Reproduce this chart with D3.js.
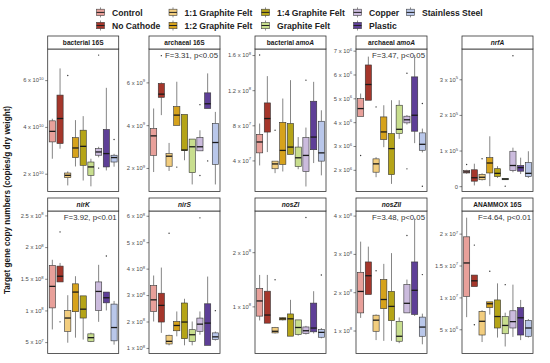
<!DOCTYPE html>
<html>
<head>
<meta charset="utf-8">
<script src="https://cdn.jsdelivr.net/npm/d3@7"></script>
<style>body{margin:0;background:#fff}</style>
</head>
<body>
<script>
const groups = ["Control", "No Cathode", "1:1 Graphite Felt", "1:2 Graphite Felt", "1:4 Graphite Felt",
  "Graphite Felt", "Copper", "Plastic", "Stainless Steel"];
const groupColors = ["#E8A09A", "#A5362B", "#F2CD7E", "#D6A21C", "#B5A417", "#C8DE8E", "#CBBBDD", "#5E3F97", "#B9C7EA"];

// box stats per group: [lower whisker, q1, median, q3, upper whisker]
const bact16S = [[2.64,3.36,3.81,4.26,4.35],[3.07,3.29,4.36,5.36,6.5],[1.5,1.83,1.93,2.03,2.1],[2.31,2.69,3.1,3.54,4.29],
  [1.71,2.36,3.17,3.86,4.46],[1.46,1.93,2.29,2.5,2.64],[2.7,2.79,2.93,3.07,3.15],[2.14,2.29,2.86,3.89,5.67],[2.3,2.5,2.69,2.79,2.85]];
const bact16SOut = [[],[],[6.2],[],[],[],[7.07,2.24],[],[3.46]];

const arch16S = [[1.81,2.59,3.5,3.84,4.78],[4.47,5.3,5.45,5.95,6.0],[1.86,2.08,2.55,2.67,3.17],[3.99,3.99,4.47,4.87,6.03],
  [2.36,2.81,2.84,4.5,4.5],[1.23,1.78,2.99,3.35,3.35],[2.8,2.8,2.99,3.42,3.76],[4.78,4.78,5.0,5.51,6.42],[1.23,2.17,3.19,4.08,4.62]];
const arch16SOut = [[],[7.25],[],[2.04],[],[],[1.65,4.96],[2.33],[]];

const bactAmoA = [[0.343,0.486,0.61,0.697,0.82],[0.495,0.723,0.877,1.055,1.36],[0.255,0.305,0.36,0.392,0.392],[0.274,0.354,0.514,0.834,1.105],
  [0.469,0.469,0.552,0.82,1.314],[0.3,0.331,0.43,0.552,0.666],[0.103,0.274,0.457,0.66,0.774],[0.37,0.522,0.666,1.074,1.295],[0.23,0.392,0.486,0.846,0.971]];
const bactAmoAOut = [[1.6],[],[0.743],[],[],[],[1.314],[],[]];

const archAmoA = [[4.24,4.24,4.57,4.99,5.2],[4.92,4.92,5.58,6.4,6.75],[1.69,1.9,2.25,2.46,2.53],[2.95,3.27,3.59,4.22,4.71],
  [1.41,1.8,2.89,3.52,4.92],[3.3,3.52,3.7,4.71,4.92],[3.9,3.97,4.1,4.25,4.3],[3.12,3.62,4.29,5.9,6.82],[2.73,2.82,3.07,3.55,3.73]];
const archAmoAOut = [[2.6],[],[4.64],[],[],[],[6.05,2.04],[],[4.78,1.31]];

const nrfA = [[0.35,0.37,0.4,0.44,0.46],[0.02,0.14,0.236,0.46,0.63],[0.16,0.18,0.25,0.33,0.36],[0.0,0.37,0.65,0.8,1.4],
  [0.23,0.27,0.36,0.49,0.56],[0.18,0.18,0.2,0.22,0.22],[0.39,0.44,0.58,0.98,1.08],[0.34,0.42,0.52,0.58,0.8],[0.23,0.27,0.36,0.66,0.98]];
const nrfAOut = [[0.61],[],[0.77],[],[],[0.0],[3.66],[],[]];

const nirK = [[0.7,1.04,1.38,1.71,1.8],[1.45,1.45,1.54,1.7,1.75],[0.49,0.67,0.88,1.0,1.24],[0.57,0.98,1.29,1.42,1.54],
  [0.54,0.88,1.02,1.23,1.23],[0.5,0.51,0.57,0.63,0.65],[0.82,1.0,1.3,1.45,1.72],[1.0,1.12,1.2,1.29,1.29],[0.46,0.52,0.73,1.1,1.15]];
const nirKOut = [[],[2.24,0.82],[],[],[],[],[],[1.86],[]];

const nirS = [[2.0,2.38,2.82,3.36,3.74],[1.57,1.98,2.61,3.07,4.04],[1.1,1.15,1.25,1.48,1.5],[1.44,1.65,1.85,2.0,2.38],
  [1.1,1.35,1.98,2.7,2.86],[1.1,1.25,1.5,1.69,2.0],[1.5,1.63,1.9,2.13,2.38],[1.1,1.1,1.94,2.67,3.7],[1.28,1.32,1.42,1.57,1.62]];
const nirSOut = [[],[],[5.34],[],[],[],[5.92],[],[2.41]];

const nosZI = [[0.74,0.82,1.1,1.33,1.58],[0.69,0.69,0.84,1.28,1.58],[0.5,0.51,0.54,0.61,0.62],[0.74,0.75,0.77,0.79,0.8],
  [0.45,0.45,0.77,0.86,1.12],[0.46,0.48,0.61,0.75,0.75],[0.48,0.5,0.55,0.62,0.64],[0.5,0.53,0.6,1.06,1.28],[0.41,0.43,0.52,0.57,0.6]];
const nosZIOut = [[],[],[1.49],[],[],[],[2.64],[],[1.58]];

const nosZII = [[1.33,1.46,2.02,2.52,3.32],[1.94,1.94,2.43,2.79,3.19],[0.75,0.98,1.27,1.4,1.42],[0.73,1.57,1.81,2.33,2.74],
  [0.73,1.26,1.63,2.02,3.02],[0.67,0.72,0.85,1.24,1.34],[1.46,1.46,1.71,2.2,2.33],[1.38,1.42,2.05,2.79,3.93],[0.64,0.85,1.09,1.35,1.44]];
const nosZIIOut = [[],[],[2.56],[],[],[],[3.48],[],[2.46]];

const anammox = [[0.69,1.016,1.54,1.95,2.25],[1.17,1.17,1.26,1.35,1.35],[0.3,0.41,0.625,0.78,0.8],[0.73,0.84,0.9,0.93,0.93],
  [0.37,0.52,0.7,0.96,1.22],[0.23,0.43,0.56,0.7,0.76],[0.38,0.52,0.62,0.79,1.2],[0.33,0.41,0.68,0.84,0.96],[0.37,0.39,0.52,0.64,0.66]];
const anammoxOut = [[],[1.82,0.57],[],[1.41],[],[1.2],[],[],[]];

const panels = [
  {title: [["bacterial 16S", 0]], stats: bact16S, out: bact16SOut, domain: [1.24, 7.33],
   ticks: [2, 4, 6], labels: ["2 x 10^10", "4 x 10^10", "6 x 10^10"], stat: ""},
  {title: [["archaeal 16S", 0]], stats: arch16S, out: arch16SOut, domain: [0.9, 7.56],
   ticks: [2, 4, 6], labels: ["2 x 10^9", "4 x 10^9", "6 x 10^9"], stat: "F=3.31, p<0.05"},
  {title: [["bacterial ", 0], ["amoA", 1]], stats: bactAmoA, out: bactAmoAOut, domain: [0.046, 1.669],
   ticks: [0.4, 0.8, 1.2, 1.6], labels: ["4 x 10^7", "8 x 10^7", "1.2 x 10^8", "1.6 x 10^8"], stat: ""},
  {title: [["archaeal ", 0], ["amoA", 1]], stats: archAmoA, out: archAmoAOut, domain: [1.09, 7.07],
   ticks: [2, 3, 4, 5, 6, 7], labels: ["2 x 10^6", "3 x 10^6", "4 x 10^6", "5 x 10^6", "6 x 10^6", "7 x 10^6"], stat: "F=3.47, p<0.05"},
  {title: [["nrfA", 1]], stats: nrfA, out: nrfAOut, domain: [-0.15, 3.85],
   ticks: [0, 1, 2, 3], labels: ["0", "1 x 10^5", "2 x 10^5", "3 x 10^5"], stat: ""},
  {title: [["nirK", 1]], stats: nirK, out: nirKOut, domain: [0.32, 2.57],
   ticks: [0.5, 1, 1.5, 2, 2.5], labels: ["5 x 10^7", "1 x 10^8", "1.5 x 10^8", "2 x 10^8", "2.5 x 10^8"], stat: "F=3.92, p<0.01"},
  {title: [["nirS", 1]], stats: nirS, out: nirSOut, domain: [0.79, 6.18],
   ticks: [1, 2, 3, 4, 5, 6], labels: ["1 x 10^8", "2 x 10^8", "3 x 10^8", "4 x 10^8", "5 x 10^8", "6 x 10^8"], stat: ""},
  {title: [["nosZI", 1]], stats: nosZI, out: nosZIOut, domain: [0.13, 2.76],
   ticks: [1, 2], labels: ["1 x 10^8", "2 x 10^8"], stat: ""},
  {title: [["nosZII", 1]], stats: nosZII, out: nosZIIOut, domain: [0.4, 4.12],
   ticks: [1, 2, 3, 4], labels: ["1 x 10^8", "2 x 10^8", "3 x 10^8", "4 x 10^8"], stat: "F=3.48, p<0.05"},
  {title: [["ANAMMOX 16S", 0]], stats: anammox, out: anammoxOut, domain: [0.12, 2.355],
   ticks: [0.5, 1, 1.5, 2], labels: ["5 x 10^6", "1 x 10^7", "1.5 x 10^7", "2 x 10^7"], stat: "F=4.64, p<0.01"}
];

const font = "'Liberation Sans', Arial, sans-serif";
const svg = d3.select("body").append("svg")
  .attr("width", 550)
  .attr("height", 363)
  .style("font-family", font);

const colX = [47.7, 149, 255, 356, 462];
const rowY = [49, 211];
const panelW = 71, panelH = 142.5, stripH = 13;

panels.forEach((p, i) => {
  const left = colX[i % 5], top = rowY[Math.floor(i / 5)];
  const g = svg.append("g").attr("transform", `translate(${left},${top})`);
  const x = d3.scalePoint().domain(groups).range([0, panelW]).padding(0.6);
  const y = d3.scaleLinear().domain(p.domain).range([panelH, 0]);
  const bw = x.step() * 0.8;

  // y axis with superscript exponents
  const ax = g.append("g").call(d3.axisLeft(y).tickValues(p.ticks).tickSize(2.5).tickPadding(1.5));
  ax.select(".domain").remove();
  ax.selectAll("line").attr("stroke", "#333").attr("stroke-width", 0.6);
  ax.selectAll("text")
    .attr("font-size", 5.8)
    .attr("font-family", font)
    .attr("fill", "#4d4d4d")
    .each(function(d, k) {
      const parts = p.labels[k].split("^");
      const t = d3.select(this).text(null);
      t.append("tspan").text(parts[0]);
      if (parts[1]) t.append("tspan").attr("dy", -2.4).attr("font-size", 4.2).text(parts[1]);
    });

  const rows = p.stats.map((s, k) => ({
    grp: groups[k], col: groupColors[k], lo: s[0], q1: s[1], med: s[2], q3: s[3], hi: s[4], out: p.out[k]
  }));

  const box = g.selectAll(".bx").data(rows).join("g")
    .attr("class", "bx")
    .attr("transform", d => `translate(${x(d.grp)},0)`);

  box.append("line")
    .attr("y1", d => y(d.hi)).attr("y2", d => y(d.q3))
    .attr("stroke", "#333").attr("stroke-width", 0.6);
  box.append("line")
    .attr("y1", d => y(d.q1)).attr("y2", d => y(d.lo))
    .attr("stroke", "#333").attr("stroke-width", 0.6);
  box.append("rect")
    .attr("x", -bw / 2)
    .attr("width", bw)
    .attr("y", d => y(d.q3))
    .attr("height", d => Math.max(0.8, y(d.q1) - y(d.q3)))
    .attr("fill", d => d.col)
    .attr("stroke", "#333")
    .attr("stroke-width", 0.6);
  box.append("line")
    .attr("x1", -bw / 2).attr("x2", bw / 2)
    .attr("y1", d => y(d.med)).attr("y2", d => y(d.med))
    .attr("stroke", "#1a1a1a").attr("stroke-width", 1.3);
  box.selectAll("circle").data(d => d.out).join("circle")
    .attr("cy", d => y(d))
    .attr("r", 0.7)
    .attr("fill", "#333");

  // panel border
  g.append("rect")
    .attr("width", panelW).attr("height", panelH)
    .attr("fill", "none").attr("stroke", "#333").attr("stroke-width", 0.8);

  // strip
  g.append("rect")
    .attr("y", -stripH).attr("width", panelW).attr("height", stripH)
    .attr("fill", "#fff").attr("stroke", "#333").attr("stroke-width", 0.8);
  const st = g.append("text")
    .attr("x", panelW / 2).attr("y", -stripH / 2 + 2.3)
    .attr("text-anchor", "middle")
    .attr("font-size", 6.6)
    .attr("font-weight", "bold")
    .attr("fill", "#1a1a1a");
  p.title.forEach(([s, it]) => st.append("tspan").attr("font-style", it ? "italic" : "normal").text(s));

  if (p.stat) {
    g.append("text")
      .attr("x", panelW - 2).attr("y", 9.2)
      .attr("text-anchor", "end")
      .attr("font-size", 7.8)
      .attr("fill", "#333")
      .text(p.stat);
  }
});

// y axis title
svg.append("text")
  .attr("transform", "translate(10,200) rotate(-90)")
  .attr("text-anchor", "middle")
  .attr("font-size", 8.2)
  .attr("font-weight", "bold")
  .attr("fill", "#1a1a1a")
  .text("Target gene copy numbers (copies/g dry weight)");

// legend (two rows, column-wise)
const legX = [112, 184.5, 277, 369, 422];
const legY = [12.4, 25.5];
groups.forEach((name, k) => {
  const cx = legX[Math.floor(k / 2)] - 11.5, cy = legY[k % 2];
  const lg = svg.append("g").attr("transform", `translate(${cx},${cy})`);
  lg.append("line").attr("y1", -5).attr("y2", 5).attr("stroke", "#444").attr("stroke-width", 0.6);
  lg.append("rect")
    .attr("x", -4).attr("y", -3.2).attr("width", 8).attr("height", 6.4)
    .attr("fill", groupColors[k]).attr("stroke", "#444").attr("stroke-width", 0.6);
  lg.append("line").attr("x1", -4).attr("x2", 4).attr("stroke", "#222").attr("stroke-width", 1);
  svg.append("text")
    .attr("x", legX[Math.floor(k / 2)]).attr("y", cy + 3.1)
    .attr("font-size", 8.6)
    .attr("font-weight", "bold")
    .attr("fill", "#222")
    .text(name);
});
</script>
</body>
</html>
